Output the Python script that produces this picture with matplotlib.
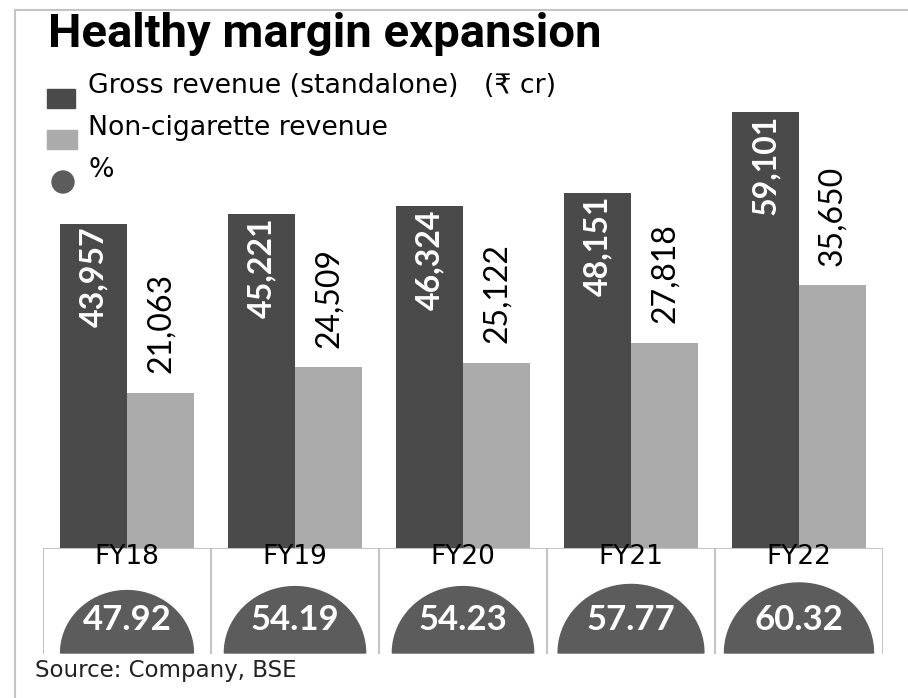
import numpy as np
import matplotlib
matplotlib.use("Agg")
import matplotlib.pyplot as plt
from matplotlib.patches import Rectangle, Circle, Polygon
from matplotlib.lines import Line2D

plt.rcParams['font.family'] = ['DejaVu Sans']
NUM_FONT = ['Lato', 'DejaVu Sans']
TITLE_FONT = ['Roboto', 'DejaVu Sans']

# data
years = ["FY18", "FY19", "FY20", "FY21", "FY22"]
gross = [43957, 45221, 46324, 48151, 59101]
non_cig = [21063, 24509, 25122, 27818, 35650]
share = [47.92, 54.19, 54.23, 57.77, 60.32]

DARK = "#4a4a4a"
LIGHT = "#ababab"
HALF = "#5c5c5c"
FRAME = "#c4c4c4"

W, H = 908, 698
fig = plt.figure(figsize=(W / 100, H / 100), dpi=100)


def fx(px):
    return px / W


def fy(py):
    return 1 - py / H


# outer frame
fig.add_artist(Line2D([fx(15), fx(908)], [fy(10), fy(10)], color=FRAME, lw=1.5))
fig.add_artist(Line2D([fx(15), fx(15)], [fy(10), fy(698)], color=FRAME, lw=1.5))

# title + legend
fig.text(fx(48), fy(47), "Healthy margin expansion", fontsize=34, fontweight="bold",
         va="baseline", ha="left", family=TITLE_FONT)
fig.add_artist(Rectangle((fx(47), fy(108)), fx(28), 19 / H, color=DARK, transform=fig.transFigure))
fig.add_artist(Rectangle((fx(47), fy(149)), fx(30), 19 / H, color=LIGHT, transform=fig.transFigure))
fig.add_artist(Circle((63, H - 182), 11, color=HALF, transform=None))
fig.text(fx(88), fy(93), "Gross revenue (standalone)   (\u20b9 cr)", fontsize=19.3, va="baseline")
fig.text(fx(88), fy(135), "Non-cigarette revenue", fontsize=19.3, va="baseline")
fig.text(fx(88), fy(177), "%", fontsize=19.3, va="baseline")

# bars
ax = fig.add_axes([fx(43), fy(548), fx(883 - 43), (548 - 98) / H])
x = np.arange(len(years))
ax.bar(x - 0.2, gross, width=0.4, color=DARK)
ax.bar(x + 0.2, non_cig, width=0.4, color=LIGHT)
ax.set_xlim(-0.5, len(years) - 0.5)
ax.set_ylim(0, max(gross) * 450 / 436)
ax.axis("off")
for i in range(len(years)):
    ax.annotate(f"{gross[i]:,}", (x[i] - 0.2, gross[i]), xytext=(0, -2), textcoords="offset points",
                rotation=90, ha="center", va="top", color="white", fontsize=23,
                fontweight="bold", family=NUM_FONT)
    ax.annotate(f"{non_cig[i]:,}", (x[i] + 0.2, non_cig[i]), xytext=(0, 14), textcoords="offset points",
                rotation=90, ha="center", va="bottom", color="black", fontsize=23,
                family=NUM_FONT)

# boxes with year labels and half discs
bx = fig.add_axes([fx(43), fy(655), fx(883 - 43), 107 / H])
bx.set_xlim(-0.5, len(years) - 0.5)
bx.set_ylim(0, 107)
bx.axis("off")
bx.plot([-0.5, len(years) - 0.5], [107, 107], color=FRAME, lw=1.5)
for b in np.arange(len(years) + 1) - 0.5:
    bx.plot([b, b], [2, 107], color=FRAME, lw=1.5)

t = np.linspace(0, np.pi, 80)
for i, v in enumerate(share):
    w_px = 149 * np.sqrt(v / max(share))
    h_px = 0.47 * w_px
    xs = i + (w_px / 2) / 168 * np.cos(t)
    ys = 2 + h_px * np.sin(t)
    bx.add_patch(Polygon(np.column_stack([xs, ys]), closed=True, color=HALF))
    bx.text(i, 35, f"{v:.2f}", ha="center", va="center", color="white",
            fontsize=25, fontweight="bold", family=NUM_FONT)
    bx.text(i, 98, years[i], ha="center", va="center", color="black", fontsize=19)

fig.text(fx(35), fy(670), "Source: Company, BSE", fontsize=16.5, va="center", color="#222222")

fig.savefig("out.png", dpi=100)
